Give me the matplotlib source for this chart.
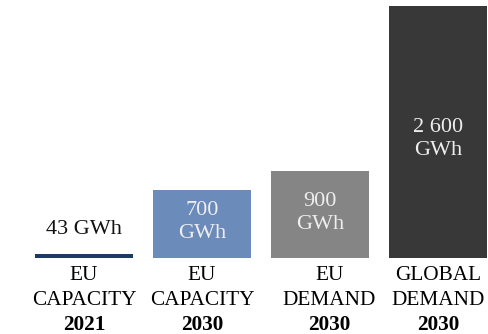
import numpy as np
import matplotlib.pyplot as plt

# battery cell capacity vs. demand, GWh
regions = ['EU\nCAPACITY', 'EU\nCAPACITY', 'EU\nDEMAND', 'GLOBAL\nDEMAND']
years = ['2021', '2030', '2030', '2030']
gwh = [43, 700, 900, 2600]
value_labels = ['43 GWh', '700\nGWh', '900\nGWh', '2 600\nGWh']
colors = ['#1c3a63', '#6b8bbb', '#858585', '#383838']
text_colors = ['#111111', '#eeeeee', '#eeeeee', '#eeeeee']

plt.rcParams['font.family'] = ['Liberation Serif', 'DejaVu Serif']

fig = plt.figure(figsize=(4.89, 3.34), dpi=100)
ax = fig.add_axes([0, 76 / 334, 1, 252 / 334])

x = np.arange(len(gwh))
ax.bar(x, gwh, width=0.83, color=colors)
ax.set_xlim(-84 / 118, 405 / 118)
ax.set_ylim(0, 2600)
ax.axis('off')

px = 2600 / 252  # data units per pixel
for i, v in enumerate(gwh):
    if i == 0:
        ax.text(x[i], v + 150, value_labels[i], ha='center', va='bottom',
                fontsize=16, color=text_colors[i])
    else:
        ax.text(x[i], 0.45 * v + 60, value_labels[i], ha='center', va='center',
                fontsize=16, color=text_colors[i], linespacing=1.3)

    # category lines below the baseline, year in bold
    xc = x[i] + (0.08 if i == 2 else 0)
    lines = regions[i].split('\n')
    for k, line in enumerate(lines):
        ax.text(xc, -(22 + 25 * k) * px, line, ha='center', va='baseline',
                fontsize=15.3, clip_on=False)
    ax.text(xc, -72 * px, years[i], ha='center', va='baseline',
            fontsize=15.3, fontweight='bold', clip_on=False)

fig.savefig('out.png', dpi=100)
